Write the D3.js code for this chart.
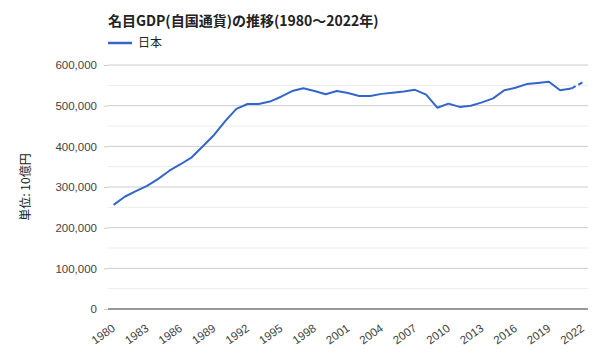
<!DOCTYPE html>
<html><head><meta charset="utf-8">
<script src="https://cdn.jsdelivr.net/npm/d3@7"></script>
<style>body{margin:0;background:#fff}svg{font-family:"Noto Sans CJK JP","Noto Sans",sans-serif}</style>
</head><body><svg id="c" width="600" height="360"></svg>
<script>
const title = "名目GDP(自国通貨)の推移(1980〜2022年)";
const seriesName = "日本";
const yAxisTitle = "単位: 10億円";
const years = d3.range(1980, 2023);
const gdp = [256000,276000,290000,303000,320000,340000,356000,373000,400000,428000,
  462000,492000,504000,504000,510000,522000,536000,543000,536000,528000,
  536000,531000,524000,524000,529000,532000,535000,539000,527000,495000,
  505000,497000,500000,508000,518000,538000,544000,553000,556000,559000,
  538000,542000,557000];
const estimateFrom = 2021;
const yTicks = [0,100000,200000,300000,400000,500000,600000];
const xTickYears = d3.range(1980, 2023, 3);

const svg = d3.select("#c");
const L=108, R=588, T=65, B=309;
const x = d3.scalePoint().domain(years).range([L,R]).padding(0.5);
const y = d3.scaleLinear().domain([0,600000]).range([B,T]);

// minor grid
svg.append("g").selectAll("line").data(d3.range(50000,600000,100000)).join("line")
  .attr("x1",L).attr("x2",R).attr("y1",d=>y(d)).attr("y2",d=>y(d))
  .attr("stroke","#ebebeb").attr("stroke-width",1);
// major grid
svg.append("g").selectAll("line").data(yTicks.slice(1)).join("line")
  .attr("x1",L).attr("x2",R).attr("y1",d=>y(d)).attr("y2",d=>y(d))
  .attr("stroke","#cccccc").attr("stroke-width",1);

// y axis
const ya = svg.append("g").attr("transform",`translate(${L},0)`)
  .call(d3.axisLeft(y).tickValues(yTicks).tickSize(4).tickPadding(7).tickFormat(d3.format(",")));
ya.select(".domain").remove();
ya.selectAll(".tick line").attr("stroke","#ccc");
ya.selectAll("text").attr("fill","#444").attr("font-size",11.5);

// baseline
svg.append("line").attr("x1",L).attr("x2",R).attr("y1",y(0)).attr("y2",y(0))
  .attr("stroke","#333").attr("stroke-width",1.2);

// x axis labels
const xa = svg.append("g").attr("transform",`translate(0,${B})`)
  .call(d3.axisBottom(x).tickValues(xTickYears).tickSize(0).tickPadding(0));
xa.select(".domain").remove();
xa.selectAll("text").attr("fill","#444").attr("font-size",11.5)
  .attr("text-anchor","end").attr("dy",0)
  .attr("transform","translate(2,21) rotate(-35)");

// line
const pts = years.map((yr,i)=>({yr, v:gdp[i]}));
const line = d3.line().x(d=>x(d.yr)).y(d=>y(d.v));
svg.append("path").datum(pts.filter(d=>d.yr<=estimateFrom)).attr("d",line)
  .attr("fill","none").attr("stroke","#3366cc").attr("stroke-width",2).attr("stroke-linejoin","round");
svg.append("path").datum(pts.filter(d=>d.yr>=estimateFrom)).attr("d",line)
  .attr("fill","none").attr("stroke","#3366cc").attr("stroke-width",2).attr("stroke-dasharray","5,3");

// y axis title
svg.append("text").attr("transform","translate(30,187) rotate(-90)")
  .attr("text-anchor","middle").attr("font-size",12).attr("fill","#222").text(yAxisTitle);

// title
svg.append("text").attr("x",L).attr("y",26).attr("font-size",14).attr("font-weight","bold")
  .attr("fill","#222").text(title);
// legend
svg.append("line").attr("x1",L).attr("x2",L+24).attr("y1",43).attr("y2",43)
  .attr("stroke","#3366cc").attr("stroke-width",2.5);
svg.append("text").attr("x",L+30).attr("y",47).attr("font-size",12).attr("fill","#222").text(seriesName);
</script></body></html>
